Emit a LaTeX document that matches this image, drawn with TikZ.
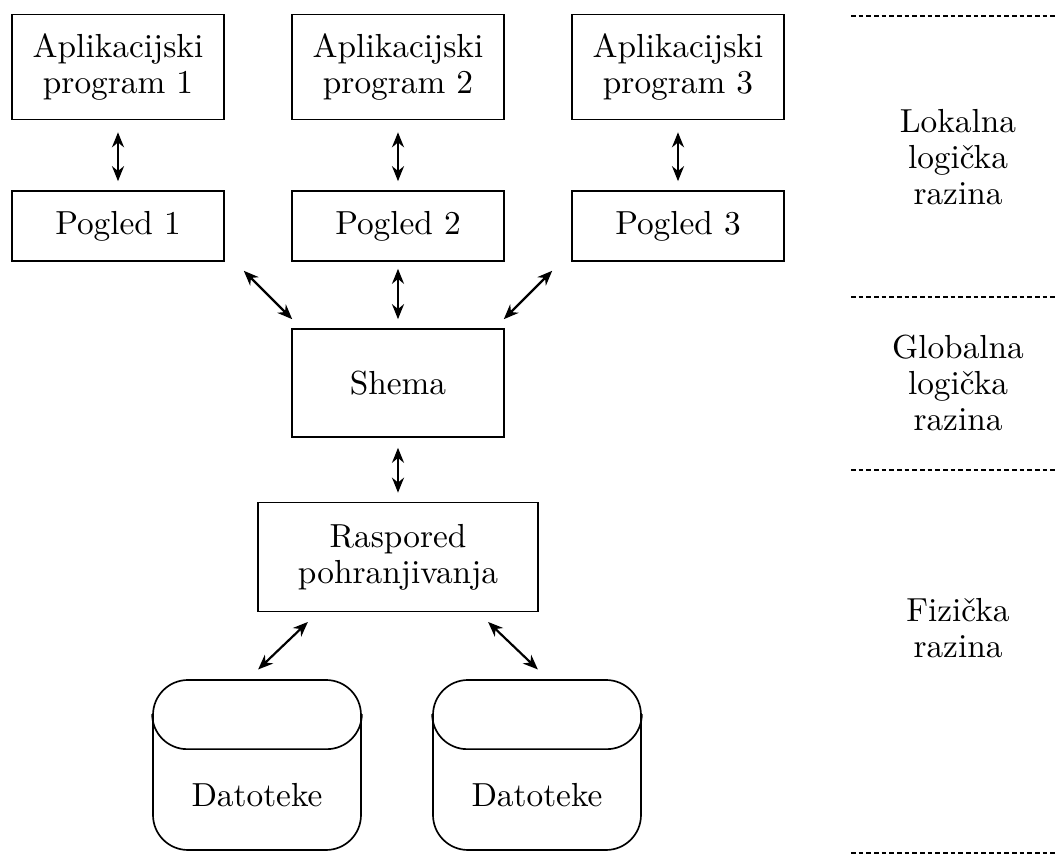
\documentclass[tikz,border=0pt]{standalone}
\usetikzlibrary{arrows.meta}
\begin{document}
\begin{tikzpicture}[x=0.3pt,y=-0.3pt,
  font=\fontsize{10pt}{10.8pt}\selectfont,
  box/.style={draw, line width=0.5pt, inner sep=0pt, align=center, minimum width=63.6pt},
  cyl/.style={draw, line width=0.5pt, inner sep=0pt, minimum width=62.4pt, minimum height=51pt, rounded corners=10.5pt},
  plain/.style={inner sep=0pt, align=center},
  arr/.style={{Stealth[length=4.5pt,width=3.6pt]}-{Stealth[length=4.5pt,width=3.6pt]}, line width=0.65pt},
  sep/.style={dash pattern=on 1.4pt off 0.9pt, line width=0.5pt}]
\useasboundingbox (0,0) rectangle (1057,855);

% applications and views
\node[box, minimum height=31.5pt] (a1) at (118,67) {Aplikacijski\\program 1};
\node[box, minimum height=31.5pt] (a2) at (398,67) {Aplikacijski\\program 2};
\node[box, minimum height=31.5pt] (a3) at (678,67) {Aplikacijski\\program 3};
\node[box, minimum height=21pt] (p1) at (118,226) {Pogled 1};
\node[box, minimum height=21pt] (p2) at (398,226) {Pogled 2};
\node[box, minimum height=21pt] (p3) at (678,226) {Pogled 3};
\node[box, minimum height=32.4pt] (sh) at (398,383) {Shema};
\node[box, minimum width=84pt, minimum height=32.7pt] (ra) at (398,557) {Raspored\\pohranjivanja};

% cylinders
\node[cyl] (c1) at (257,765) {};
\node[cyl] (c2) at (537,765) {};
\foreach \c in {c1,c2}{
  \draw[line width=0.5pt] ([yshift=-10.5pt]\c.north west) arc[start angle=180, end angle=270, radius=10.5pt]
    -- ([xshift=-10.5pt,yshift=-21pt]\c.north east) arc[start angle=270, end angle=360, radius=10.5pt];
}
\node[plain] (d1) at (257,795) {Datoteke};
\node[plain] (d2) at (537,795) {Datoteke};

% arrows
\foreach \i in {1,2,3}{
  \draw[arr, shorten <=3.6pt, shorten >=2.7pt] (a\i.south) -- (p\i.north);
}
\draw[arr, shorten <=3.8pt, shorten >=3.8pt] ([xshift=3pt]p1.south east) -- ([xshift=3pt]sh.north west);
\draw[arr, shorten <=3.8pt, shorten >=3.8pt] ([xshift=-3pt]p3.south west) -- ([xshift=-3pt]sh.north east);
\draw[arr, shorten <=2.1pt, shorten >=2.7pt] (p2.south) -- (sh.north);
\draw[arr, shorten <=3pt, shorten >=2.7pt] (sh.south) -- (ra.north);
\draw[arr, shorten <=4.2pt, shorten >=4.2pt] ([xshift=-24pt]ra.south) -- ([xshift=-2.7pt]c1.north);
\draw[arr, shorten <=4.2pt, shorten >=4.2pt] ([xshift=24pt]ra.south) -- ([xshift=3.3pt]c2.north);

% levels
\draw[sep] (851,16) -- (1057,16);
\draw[sep] (851,297) -- (1057,297);
\draw[sep] (851,470) -- (1057,470);
\draw[sep] (851,853) -- (1057,853);
\node[plain] (l1) at (958,157) {Lokalna\\logička\\razina};
\node[plain] (l2) at (958,383) {Globalna\\logička\\razina};
\node[plain] (l3) at (958,628) {Fizička\\razina};
\end{tikzpicture}
\end{document}
